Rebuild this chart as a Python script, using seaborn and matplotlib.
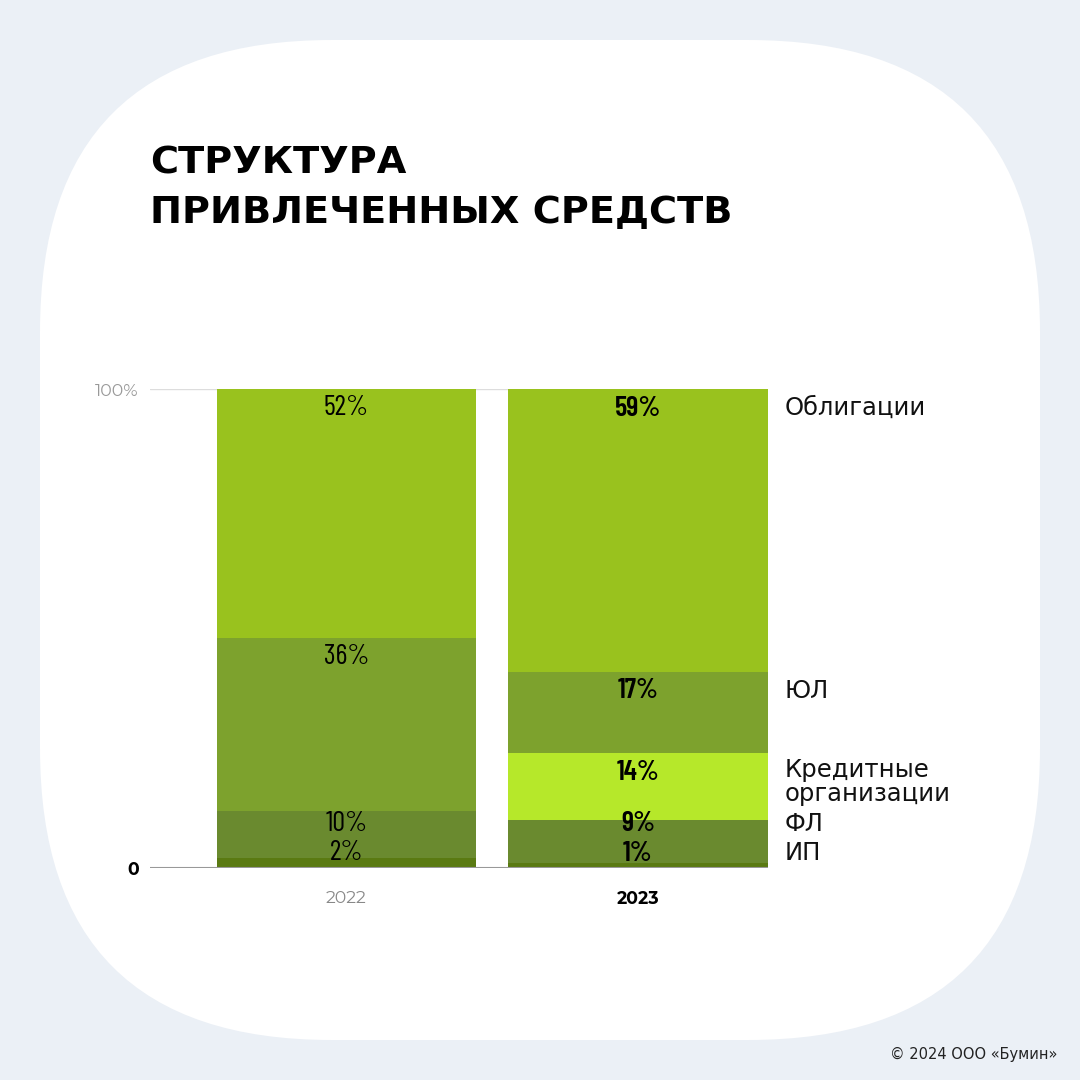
import pandas as pd
import matplotlib
matplotlib.use('Agg')
import matplotlib.pyplot as plt
import seaborn as sns
from matplotlib.patches import FancyBboxPatch

# данные
years = ['2022', '2023']
categories = ['ИП', 'ФЛ', 'Кредитные\nорганизации', 'ЮЛ', 'Облигации']
ip = [2, 1]
fl = [10, 9]
kred = [0, 14]
yul = [36, 17]
obl = [52, 59]
colors = ['#5A7A12', '#6A8A2F', '#B6E82A', '#7DA22D', '#99C21E']

series = [ip, fl, kred, yul, obl]

sns.set_theme(style='white')
# цифры — Montserrat Alternates, кириллица — DejaVu Sans
plt.rcParams['font.family'] = ['Montserrat Alternates', 'DejaVu Sans']
narrow = ['Barlow Condensed', 'DejaVu Sans']
cyr = ['DejaVu Sans']

fig = plt.figure(figsize=(10.8, 10.8), dpi=100)
fig.patch.set_facecolor('#EBF0F6')
card = FancyBboxPatch((40 / 1080, 40 / 1080), 1000 / 1080, 1000 / 1080,
                      boxstyle='round,pad=0,rounding_size=0.27',
                      transform=fig.transFigure, facecolor='white',
                      edgecolor='none', zorder=-5)
fig.patches.append(card)

ax = fig.add_axes([150 / 1080, 1 - 868 / 1080, 618 / 1080, 479 / 1080])
ax.set_facecolor('none')
ax.set_zorder(2)

# кумулятивные суммы для стека
df = pd.DataFrame({'year': years})
cum = [0, 0]
tops = []
for s in series:
    cum = [c + v for c, v in zip(cum, s)]
    tops.append(cum)

# рисуем от верхнего слоя к нижнему
for i in range(len(series) - 1, -1, -1):
    df['h'] = tops[i]
    sns.barplot(data=df, x='year', y='h', color=colors[i], saturation=1,
                width=0.889, ax=ax, zorder=2, linewidth=0, edgecolor='none')

ax.set_xlim(-0.674, 1.446)
ax.set_ylim(0, 100)
sns.despine(ax=ax, left=True, bottom=True)
ax.axhline(100, color='#DDDDDD', lw=1, zorder=1)
ax.axhline(0, color='#999999', lw=1.5, zorder=3)

# подписи процентов
label_pos = []
for j in range(len(years)):
    prev = None
    pos_j = []
    for i, s in enumerate(series):
        if s[j] == 0:
            pos_j.append(None)
            continue
        y = tops[i][j] - 4
        low = 3.1 if prev is None else prev + 6.1
        y = max(y, low)
        prev = y
        pos_j.append(y)
        ax.text(j, y, f'{s[j]}%', ha='center', va='center', fontsize=20.5,
                family=narrow, fontweight='semibold' if j == 1 else 'normal',
                color='black', zorder=4)
    label_pos.append(pos_j)

# подписи категорий справа
for i, name in enumerate(categories):
    y = label_pos[1][i]
    if '\n' in name:
        ax.text(1.504, y + 2.9, name, ha='left', va='top', fontsize=17.5,
                color='#111111', linespacing=1.0, clip_on=False, family=cyr)
    else:
        ax.text(1.504, y, name, ha='left', va='center', fontsize=17.5,
                color='#111111', clip_on=False, family=cyr)

ax.set_xlabel('')
ax.set_ylabel('')
ax.set_yticks([0, 100])
ax.set_yticklabels(['0', '100%'])
ax.tick_params(axis='y', length=0, pad=8)
ax.tick_params(axis='x', length=0, pad=16)
for t in ax.get_yticklabels():
    t.set_fontsize(12.5)
ax.get_yticklabels()[0].set_fontweight('bold')
ax.get_yticklabels()[0].set_color('black')
ax.get_yticklabels()[1].set_color('#999999')
for k, t in enumerate(ax.get_xticklabels()):
    t.set_fontsize(12.5)
    t.set_color('#888888' if k == 0 else 'black')
    t.set_fontweight('normal' if k == 0 else 'bold')

fig.text(150 / 1080, 1 - 164 / 1080, 'СТРУКТУРА', fontsize=27.5, fontweight='bold',
         va='center', ha='left', color='black', family=cyr)
fig.text(150 / 1080, 1 - 213 / 1080, 'ПРИВЛЕЧЕННЫХ СРЕДСТВ', fontsize=27.5,
         fontweight='bold', va='center', ha='left', color='black', family=cyr)
fig.text(1057 / 1080, 1 - 1054 / 1080, '© 2024 ООО «Бумин»', fontsize=10.5,
         ha='right', va='center', color='#222222', family=cyr)

fig.savefig('out.png', dpi=100, facecolor=fig.get_facecolor())
